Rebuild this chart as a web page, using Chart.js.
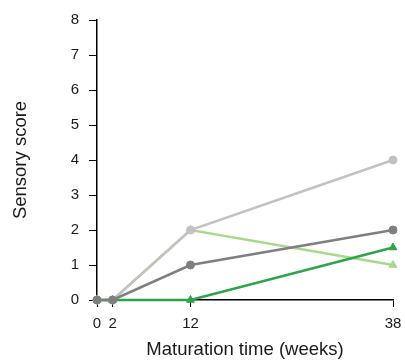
<!DOCTYPE html>
<html>
<head>
<meta charset="utf-8">
<script src="https://cdn.jsdelivr.net/npm/chart.js@4"></script>
<style>
  html, body { margin: 0; padding: 0; background: #fff; }
  #wrap { width: 405px; height: 361px; }
</style>
</head>
<body>
<div id="wrap"><canvas id="sensoryChart"></canvas></div>
<script>
// Maturation time (weeks) and sensory scores per sample
const weeks = [0, 2, 12, 38];
const xTicks = [0, 2, 12, 38];
const darkGrey = [0, 0, 1, 2];
const lightGrey = [0, 0, 2, 4];
const darkGreen = [0, 0, 0, 1.5];
const lightGreen = [0, 0, 2, 1];

const toPoints = vals => weeks.map((w, i) => ({ x: w, y: vals[i] }));

function series(vals, color, shape, r) {
    return {
        data: toPoints(vals),
        borderColor: color,
        backgroundColor: color,
        pointBackgroundColor: color,
        pointBorderColor: color,
        pointStyle: shape,
        pointRadius: r,
        pointBorderWidth: 1,
        borderWidth: 2.5,
        tension: 0,
        clip: false
    };
}

const ctx = document.getElementById('sensoryChart').getContext('2d');
new Chart(ctx, {
    type: 'line',
    data: {
        datasets: [
            series(darkGrey, '#7f7f7f', 'circle', 4),
            series(lightGrey, '#c2c2c2', 'circle', 4),
            series(darkGreen, '#2ea44a', 'triangle', 4.5),
            series(lightGreen, '#a9d88c', 'triangle', 4.5)
        ]
    },
    options: {
        responsive: true,
        maintainAspectRatio: false,
        animation: false,
        layout: { padding: { top: 20, right: 12, left: 10, bottom: 0 } },
        plugins: { legend: { display: false }, tooltip: { enabled: false } },
        scales: {
            x: {
                type: 'linear',
                min: 0,
                max: 38,
                afterBuildTicks: axis => { axis.ticks = xTicks.map(v => ({ value: v })); },
                afterFit: axis => { axis.height = 61; axis.paddingRight = 0; axis.paddingLeft = 0; },
                grid: { drawOnChartArea: false, drawTicks: true, tickLength: 7, color: '#000' },
                border: { color: '#000', width: 1.5 },
                ticks: { color: '#1a1a1a', font: { family: 'Liberation Sans', size: 15 }, padding: 8, maxRotation: 0 },
                title: { display: true, text: 'Maturation time (weeks)', color: '#1a1a1a', font: { family: 'Liberation Sans', size: 18.5 }, padding: { top: 0, bottom: 0 } }
            },
            y: {
                min: 0,
                max: 8,
                afterFit: axis => { axis.width = 87; },
                grid: { drawOnChartArea: false, drawTicks: true, tickLength: 8, color: '#000' },
                border: { color: '#000', width: 1.5 },
                ticks: { stepSize: 1, color: '#1a1a1a', font: { family: 'Liberation Sans', size: 15 }, padding: 10 },
                title: { display: true, text: 'Sensory score', color: '#1a1a1a', font: { family: 'Liberation Sans', size: 18.5 }, padding: { top: 0, bottom: 0 } }
            }
        }
    }
});
</script>
</body>
</html>
